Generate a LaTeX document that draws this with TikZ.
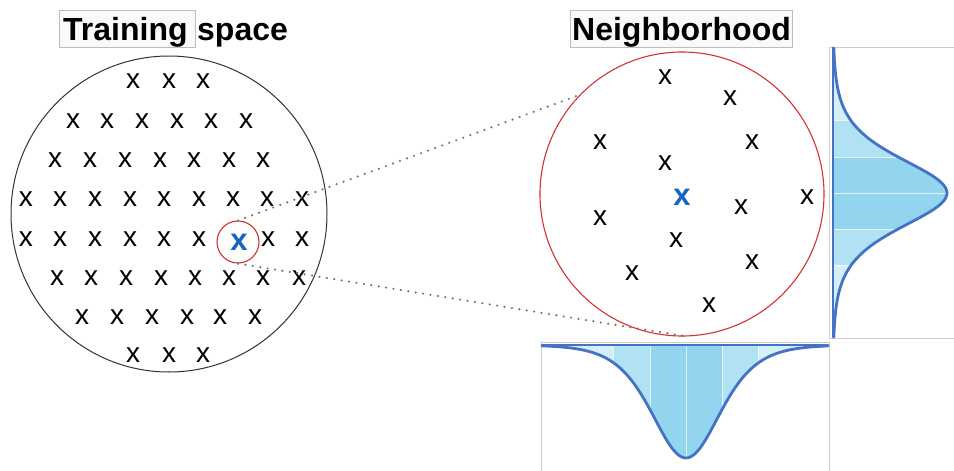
\documentclass[tikz,border=0pt]{standalone}
\usepackage{fontspec}
\setmainfont{Liberation Sans}
\definecolor{qblue}{RGB}{21,101,192}
\definecolor{cred}{RGB}{214,48,49}
\definecolor{dotgray}{RGB}{115,115,115}
\definecolor{boxfill}{RGB}{248,249,250}
\definecolor{boxline}{RGB}{190,190,190}
\definecolor{panelline}{RGB}{205,205,205}
\definecolor{curveblue}{RGB}{68,114,196}
\definecolor{bandA}{RGB}{147,213,238}
\definecolor{bandB}{RGB}{177,226,244}
\definecolor{bandC}{RGB}{211,239,249}
\begin{document}
\begin{tikzpicture}[x=1pt,y=-1pt,
  xpt/.style={font=\fontsize{28}{30}\selectfont, inner sep=0pt, text=black},
  qpt/.style={font=\bfseries\fontsize{31}{33}\selectfont, inner sep=0pt, text=qblue},
  titletext/.style={font=\bfseries\fontsize{32}{36}\selectfont, inner sep=0pt, anchor=base west},
  titlebox/.style={draw=boxline, fill=boxfill, line width=0.8pt, anchor=north west, inner sep=0pt},
  ringblack/.style={circle, draw=black!80, line width=1pt, inner sep=0pt},
  ringred/.style={circle, draw=cred, line width=1.1pt, inner sep=0pt},
  dotline/.style={draw=dotgray, line width=2.4pt, line cap=round, dash pattern=on 0pt off 7.5pt},
  panel/.style={draw=panelline, line width=1pt},
  curve/.style={draw=curveblue, line width=2.8pt, line cap=round, line join=round},
  sep/.style={draw=white, line width=1pt, opacity=0.7}]
\useasboundingbox (0,0) rectangle (954,471);

% titles
\node[titlebox, minimum width=136pt, minimum height=37pt] (tbox) at (59,10) {};
\node[titletext] (ttl1) at (63,40) {Training};
\node[titletext] (ttl2) at (197,40) {space};
\node[titlebox, minimum width=222pt, minimum height=37pt] (nbox) at (570,10) {};
\node[titletext] (ttl3) at (572,40) {Neighborhood};

% training space
\node[ringblack, minimum size=316pt] (train) at (169,214) {};
\foreach \yy/\xs in {81/{133,169,203},
                     121/{73,107,142,177,211,246},
                     160/{55,90,125,160,194,229,263},
                     199/{26,60,95,130,164,199,233,267,302},
                     239/{26,60,95,130,164,199,268,302},
                     278/{57,91,126,161,195,229,263,299},
                     317/{82,117,152,187,220,255},
                     355/{133,169,203}}
{
  \foreach \xx in \xs { \node[xpt] (t-\yy-\xx) at (\xx,\yy) {x}; }
}
\node[qpt] (q) at (239,242) {x};
\node[ringred, minimum size=42pt] (small) at (238,242) {};

% neighborhood
\node[ringred, minimum size=284pt] (nb) at (682,194) {};
\foreach \xx/\yy [count=\i] in {665/77, 730/98, 600/142, 752/142, 665/163, 741/207,
                                807/197, 600/218, 676/240, 752/262, 632/273, 709/305}
{ \node[xpt] (n-\i) at (\xx,\yy) {x}; }
\node[qpt] (nq) at (682,197) {x};

% dotted connectors
\draw[dotline] (small.north) -- (nb.136);
\draw[dotline] (small.south) -- (nb.-88);

% right panel (vertical bell curve)
\begin{scope}
  \clip (833,47) -- plot[domain=47:338, samples=150, variable=\t] ({833+114/(cosh((\t-193)/46)^2)}, \t) -- (833,338) -- cycle;
  \fill[bandC] (833,47) rectangle (954,120);
  \fill[bandB] (833,120) rectangle (954,157);
  \fill[bandA] (833,157) rectangle (954,229);
  \fill[bandB] (833,229) rectangle (954,265);
  \fill[bandC] (833,265) rectangle (954,338);
  \foreach \s in {120,157,193,229,265} { \draw[sep] (833,\s) -- (954,\s); }
\end{scope}
\draw[panel] (954,47) -- (829,47) -- (829,338) -- (954,338);
\draw[curve] (833,48) -- (833,337);
\draw[curve] plot[domain=48:337, samples=150, variable=\t] ({833+114/(cosh((\t-193)/46)^2)}, \t);

% bottom panel (horizontal bell curve)
\begin{scope}
  \clip (541,345) -- plot[domain=541:829, samples=150, variable=\t] (\t, {345+113/(cosh((\t-686)/46)^2)}) -- (829,345) -- cycle;
  \fill[bandC] (541,345) rectangle (613,471);
  \fill[bandB] (613,345) rectangle (650,471);
  \fill[bandA] (650,345) rectangle (722,471);
  \fill[bandB] (722,345) rectangle (758,471);
  \fill[bandC] (758,345) rectangle (829,471);
  \foreach \s in {613,650,686,722,758} { \draw[sep] (\s,345) -- (\s,471); }
\end{scope}
\draw[panel] (541,471) -- (541,342) -- (829,342) -- (829,471);
\draw[curve] (542,345) -- (828,345);
\draw[curve] plot[domain=542:828, samples=150, variable=\t] (\t, {345+113/(cosh((\t-686)/46)^2)});
\end{tikzpicture}
\end{document}
